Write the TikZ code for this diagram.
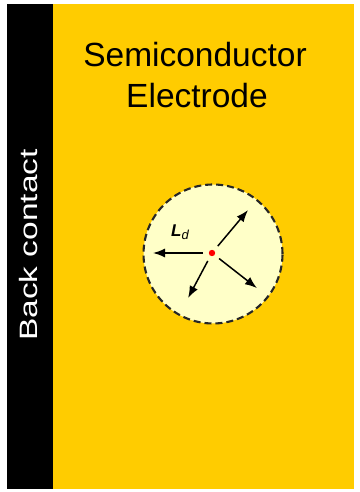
\documentclass[tikz,border=0pt]{standalone}
\usepackage{fontspec}
\setmainfont{Liberation Sans}
\usetikzlibrary{arrows.meta,calc}
\definecolor{electrode}{RGB}{255,204,0}
\definecolor{zone}{RGB}{255,255,200}

\begin{document}
\begin{tikzpicture}[x=1pt,y=1pt,
  bigtext/.style={font=\fontsize{33.5}{40}\selectfont,inner sep=0pt},
  diffarrow/.style={-{Latex[length=12pt,width=9pt]},line width=1.5pt,shorten <=9pt}]
  \pgfmathsetmacro{\Radius}{69.5};
  \useasboundingbox (0,0) rectangle (359,492);
  %
  \coordinate (C) at (212,239);
  \coordinate (M) at (213,238);
  % back contact and electrode
  \fill[black] (7,3) rectangle (53,488);
  \fill[electrode] (53,3) rectangle (354,488);
  \node[bigtext,text=white,rotate=90,yscale=0.75,anchor=base] (contact) at (37,247) {Back contact};
  \node[bigtext,anchor=base] (title) at (195,425) {Semiconductor};
  \node[bigtext,anchor=base] (subtitle) at (197,384) {Electrode};
  % diffusion zone
  \draw[fill=zone,line width=2.1pt,dash pattern=on 7pt off 4pt,draw=black!85] (M) circle (\Radius);
  \coordinate (E1) at ($(C)+(180:59)$);
  \coordinate (E2) at ($(C)+(50:56)$);
  \coordinate (E3) at ($(C)+(242:51)$);
  \coordinate (E4) at ($(C)+(322:57)$);
  \foreach \e in {E1,E2,E3,E4}
    \draw[diffarrow] (C) -- (\e);
  \fill[red] (C) circle (3.2);
  \node[anchor=base west,inner sep=0pt,font=\fontsize{17}{20}\selectfont\bfseries\itshape] (Ld) at (171,255) {L\raisebox{-3pt}{\fontsize{13}{14}\selectfont\mdseries d}};
\end{tikzpicture}
\end{document}
